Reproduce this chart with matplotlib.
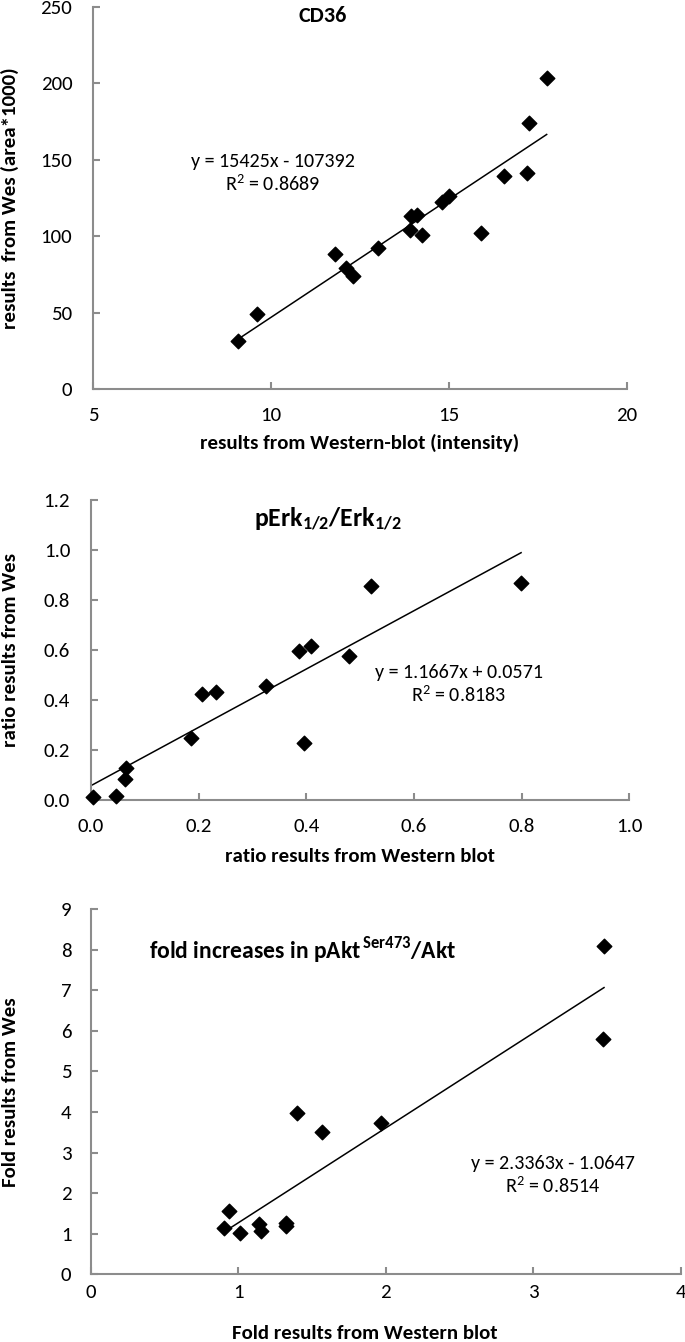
import numpy as np
import matplotlib
matplotlib.use("Agg")
import matplotlib.pyplot as plt

# CD36
cd36_wb = [9.08, 9.6, 11.8, 12.1, 12.3, 13.0, 13.9, 13.95, 14.1, 14.25, 14.8, 15.0, 15.9, 16.55, 17.2, 17.25, 17.75]
cd36_wes = [31.6, 49, 88, 79, 74, 92, 104, 113, 114, 100.5, 122, 126, 102, 139, 141, 174, 203]
cd36_fit = (15425, -107392)   # in area units, plotted /1000

# pErk1/2 / Erk1/2
erk_wb = [0.003, 0.047, 0.064, 0.066, 0.186, 0.207, 0.232, 0.326, 0.386, 0.395, 0.408, 0.479, 0.521, 0.799]
erk_wes = [0.01, 0.015, 0.085, 0.129, 0.249, 0.424, 0.433, 0.457, 0.595, 0.229, 0.616, 0.576, 0.857, 0.868]
erk_fit = (1.1667, 0.0571)

# pAkt Ser473 / Akt
akt_wb = [0.90, 0.94, 1.008, 1.138, 1.156, 1.32, 1.32, 1.40, 1.57, 1.965, 3.47, 3.48]
akt_wes = [1.15, 1.56, 1.01, 1.24, 1.07, 1.27, 1.18, 3.97, 3.50, 3.74, 5.81, 8.08]
akt_fit = (2.3363, -1.0647)

plt.rcParams['font.family'] = ['Carlito', 'DejaVu Sans']
plt.rcParams['mathtext.fontset'] = 'custom'
plt.rcParams['mathtext.rm'] = 'Carlito'
plt.rcParams['mathtext.bf'] = 'Carlito:bold'

axcol = '#8c8c8c'
tick_fs = 15
lab_fs = 15
eq_fs = 14.5

fig = plt.figure(figsize=(6.85, 13.42), dpi=100)


def style(ax):
    for s in ['top', 'right']:
        ax.spines[s].set_visible(False)
    for s in ['left', 'bottom']:
        ax.spines[s].set_color(axcol)
        ax.spines[s].set_linewidth(1.5)
    ax.tick_params(direction='in', length=5, width=1.5, color=axcol, labelsize=tick_fs)


def panel(rect, x, y, fit, scale, xlim, ylim, xticks, yticks, fmt, xpad, ypad):
    ax = fig.add_axes(rect)
    style(ax)
    ax.scatter(x, y, marker='D', s=55, color='black', zorder=3, clip_on=False)
    xs = np.array([min(x), max(x)])
    ax.plot(xs, (fit[0] * xs + fit[1]) / scale, color='black', lw=1.1)
    ax.set_xlim(*xlim)
    ax.set_ylim(*ylim)
    ax.set_xticks(xticks)
    ax.set_yticks(yticks)
    ax.set_xticklabels([fmt.format(t) for t in xticks])
    ax.set_yticklabels([fmt.format(t) for t in yticks])
    ax.tick_params(axis='x', pad=xpad)
    ax.tick_params(axis='y', pad=ypad)
    return ax


def labels(ax, xl, yl, xpos, ypos):
    ax.set_xlabel(xl, fontsize=lab_fs, fontweight='bold', va='center')
    ax.set_ylabel(yl, fontsize=lab_fs, fontweight='bold', va='center')
    ax.xaxis.set_label_coords(*xpos)
    ax.yaxis.set_label_coords(*ypos)


ax1 = panel([0.1359, 0.7101, 0.779, 0.285], cd36_wb, cd36_wes, cd36_fit, 1000,
            (5, 20), (0, 250), [5, 10, 15, 20], [0, 50, 100, 150, 200, 250], '{:g}', 13, 15)
labels(ax1, 'results from Western-blot (intensity)', 'results  from Wes (area*1000)',
       (0.5, -0.141), (-0.156, 0.5))
ax1.text(0.43, 0.975, 'CD36', transform=ax1.transAxes, ha='center', va='center',
         fontsize=16, fontweight='bold')
ax1.text(0.337, 0.564, 'y = 15425x - 107392\nR$^2$ = 0.8689', transform=ax1.transAxes,
         ha='center', va='center', fontsize=eq_fs, linespacing=1.2)

ax2 = panel([0.1327, 0.4039, 0.786, 0.2235], erk_wb, erk_wes, erk_fit, 1,
            (0, 1), (0, 1.2), [0, 0.2, 0.4, 0.6, 0.8, 1.0], [0, 0.2, 0.4, 0.6, 0.8, 1.0, 1.2],
            '{:.1f}', 13, 15)
labels(ax2, 'ratio results from Western blot', 'ratio results from Wes',
       (0.5, -0.19), (-0.150, 0.5))
ax2.text(0.44, 0.935, r'$\mathbf{pErk_{1/2}/Erk_{1/2}}$', transform=ax2.transAxes,
         ha='center', va='center', fontsize=18.5)
ax2.text(0.683, 0.385, 'y = 1.1667x + 0.0571\nR$^2$ = 0.8183', transform=ax2.transAxes,
         ha='center', va='center', fontsize=eq_fs, linespacing=1.2)

ax3 = panel([0.1327, 0.0504, 0.861, 0.2722], akt_wb, akt_wes, akt_fit, 1,
            (0, 4), (0, 9), [0, 1, 2, 3, 4], list(range(10)), '{:g}', 7, 14)
labels(ax3, 'Fold results from Western blot', 'Fold results from Wes',
       (0.464, -0.161), (-0.137, 0.5))
ax3.text(0.098, 0.885, r'fold increases in pAkt$^{\,\mathbf{Ser473}}$/Akt', transform=ax3.transAxes,
         ha='left', va='center', fontsize=17, fontweight='bold')
ax3.text(0.784, 0.27, 'y = 2.3363x - 1.0647\nR$^2$ = 0.8514', transform=ax3.transAxes,
         ha='center', va='center', fontsize=eq_fs, linespacing=1.2)

fig.savefig('out.png', dpi=100)
